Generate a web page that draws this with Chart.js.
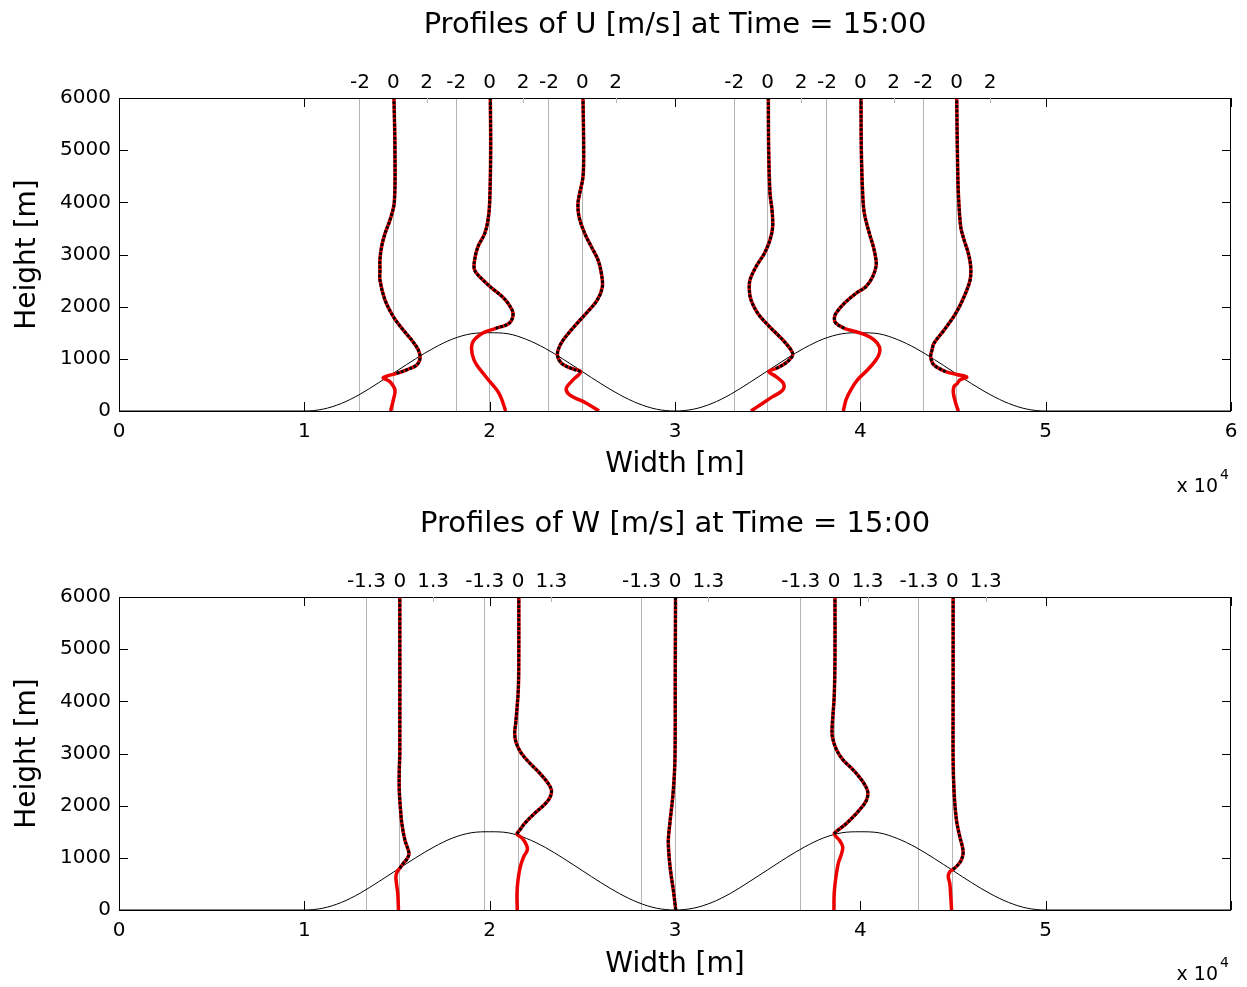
<!DOCTYPE html>
<html lang="en">
<head>
  <meta charset="UTF-8" />
  <title>Profiles of U and W at Time = 15:00</title>
  <script src="https://cdn.jsdelivr.net/npm/chart.js"></script>
  <style>
    body { margin: 0; background: #fff; }
    canvas { position: absolute; left: 0; }
  </style>
</head>
<body>
<canvas id="uChart" width="1247" height="499" style="top:0"></canvas>
<canvas id="wChart" width="1247" height="488" style="top:499px"></canvas>
<script>
  // ---- data ----
  const xTicks = [0, 10000, 20000, 30000, 40000, 50000, 60000];

  // terrain (two hills)
  const terrainX = [0, 10000, 11000, 12000, 13000, 14000, 15000, 16000, 17000, 18000, 19000, 20000,
    21000, 22000, 23000, 24000, 25000, 26000, 27000, 28000, 29000, 30000,
    31000, 32000, 33000, 34000, 35000, 36000, 37000, 38000, 39000, 40000,
    41000, 42000, 43000, 44000, 45000, 46000, 47000, 48000, 49000, 50000, 60000];
  const terrainH = [0, 0, 35, 145, 320, 540, 770, 1000, 1210, 1380, 1480, 1500,
    1480, 1370, 1200, 985, 755, 525, 315, 145, 35, 0,
    35, 145, 320, 540, 770, 1000, 1210, 1380, 1480, 1500,
    1480, 1370, 1200, 985, 755, 525, 315, 145, 35, 0, 0];

  // U profiles [m/s]: heights and values, plus where each one sits on the x axis
  const uX0 = [14800, 20000, 25000, 35000, 40000, 45200];
  const uSurf = [720, 1585, 755, 815, 1585, 755];
  const uTickVals = [-2, 0, 2];
  const uH1 = [0, 210, 400, 560, 640, 720, 790, 880, 1010, 1170, 1360, 1550, 1810, 2130, 2510, 2700, 2900, 3150, 3400, 3660, 4000, 5000, 6000];
  const uV1 = [-0.16, 0, 0.1, -0.2, -0.6, 0.2, 0.8, 1.4, 1.6, 1.5, 1.1, 0.6, 0, -0.5, -0.8, -0.8, -0.8, -0.7, -0.5, -0.2, 0.06, 0.1, 0.04];
  const uH2 = [0, 340, 660, 980, 1300, 1490, 1585, 1680, 1870, 2065, 2190, 2350, 2510, 2700, 2900, 3150, 3400, 3660, 4000, 5000, 6000];
  const uV2 = [0.96, 0.56, -0.24, -0.94, -1.04, -0.44, 0.36, 1.16, 1.4, 1.1, 0.76, 0.15, -0.4, -0.9, -0.9, -0.7, -0.3, -0.1, 0, 0.06, 0.04];
  const uH3 = [0, 150, 310, 435, 595, 755, 820, 915, 1045, 1170, 1360, 1650, 1875, 2130, 2380, 2640, 2895, 3150, 3405, 3725, 3980, 4170, 4490, 5000, 6000];
  const uV3 = [1.0, 0.24, -0.76, -0.96, -0.56, -0.1, -0.7, -1.25, -1.48, -1.45, -1.15, -0.4, 0.24, 0.9, 1.2, 1.14, 0.94, 0.54, 0.14, -0.2, -0.26, -0.16, 0.04, 0.08, 0.04];
  const uH4 = [0, 150, 275, 400, 530, 660, 755, 815, 880, 980, 1075, 1170, 1365, 1620, 1875, 2130, 2320, 2510, 2765, 3020, 3280, 3535, 3855, 4170, 5000, 6000];
  const uV4 = [-1.0, -0.3, 0.3, 0.9, 0.94, 0.5, 0.06, 0.5, 0.9, 1.3, 1.5, 1.4, 0.9, 0.1, -0.6, -1.0, -1.1, -1.06, -0.7, -0.2, 0.14, 0.3, 0.26, 0.14, 0.06, 0.04];
  const uH5 = [0, 215, 410, 600, 790, 980, 1105, 1235, 1360, 1455, 1520, 1585, 1680, 1775, 1875, 2065, 2255, 2385, 2575, 2770, 2895, 3150, 3405, 3790, 4170, 5000, 6000];
  const uV5 = [-1.02, -0.86, -0.56, -0.16, 0.44, 0.94, 1.14, 1.14, 0.84, 0.34, -0.26, -0.96, -1.46, -1.56, -1.46, -0.96, -0.26, 0.34, 0.74, 0.94, 0.94, 0.78, 0.54, 0.24, 0.14, 0.06, 0.04];
  const uH6 = [0, 150, 340, 470, 530, 600, 650, 700, 755, 880, 1040, 1170, 1300, 1550, 1870, 2190, 2510, 2765, 3020, 3280, 3535, 4170, 5000, 6000];
  const uV6 = [0.1, -0.06, -0.2, -0.16, 0.04, 0.2, 0.6, 0.0, -0.66, -1.36, -1.56, -1.48, -1.36, -0.76, -0.06, 0.44, 0.8, 0.84, 0.7, 0.44, 0.24, 0.1, 0.04, 0];

  // W profiles [m/s]
  const wX0 = [15150, 21530, 30000, 38590, 44965];
  const wSurf = [800, 1457, 0, 1457, 780];
  const wTickVals = [-1.3, 0, 1.3];
  const wH1 = [0, 320, 510, 640, 735, 800, 890, 980, 1085, 1340, 1660, 1915, 2300, 2680, 3000, 6000];
  const wV1 = [-0.05, -0.08, -0.13, -0.15, -0.1, 0, 0.13, 0.28, 0.36, 0.2, 0.08, 0.03, -0.02, -0.02, 0, 0];
  const wH2 = [0, 320, 575, 830, 1020, 1150, 1245, 1375, 1457, 1535, 1660, 1855, 2045, 2175, 2300, 2430, 2620, 2815, 3005, 3200, 3390, 3580, 4220, 4860, 6000];
  const wV2 = [-0.03, -0.04, 0, 0.09, 0.22, 0.36, 0.33, 0.17, -0.04, 0.07, 0.26, 0.65, 1.08, 1.26, 1.3, 1.17, 0.85, 0.46, 0.13, -0.07, -0.13, -0.09, 0.01, 0.03, 0.03];
  const wH3 = [0, 380, 700, 1020, 1340, 1660, 2300, 2940, 4500, 6000];
  const wV3 = [0.03, -0.065, -0.16, -0.23, -0.26, -0.2, -0.065, 0, 0.01, 0.02];
  const wH4 = [0, 320, 640, 895, 1085, 1215, 1340, 1457, 1535, 1660, 1855, 2045, 2175, 2300, 2490, 2685, 2875, 3070, 3320, 3515, 4090, 4860, 6000];
  const wV4 = [-0.01, 0, 0.07, 0.16, 0.29, 0.33, 0.2, 0, 0.16, 0.48, 0.87, 1.19, 1.3, 1.29, 1.07, 0.74, 0.35, 0.09, -0.07, -0.08, 0, 0.03, 0.03];
  const wH5 = [0, 320, 510, 640, 735, 780, 865, 960, 1085, 1215, 1405, 1725, 2240, 2880, 4220, 6000];
  const wV5 = [-0.03, -0.07, -0.1, -0.16, -0.1, 0.03, 0.22, 0.35, 0.42, 0.39, 0.29, 0.16, 0.07, 0.03, 0.03, 0.03];

  // ---- styling ----
  const FONT = '"DejaVu Sans", sans-serif';
  const RED = '#ec0000';
  const GRID = '#b4b4b4';
  Chart.defaults.font.family = FONT;
  Chart.defaults.color = '#000';

  // frame, inward ticks, title and the x 10^4 note
  function decorations(cfg) {
    return {
      id: 'decor',
      afterDatasetsDraw(chart) {
        const { ctx, chartArea: a, scales } = chart;
        ctx.save();
        ctx.strokeStyle = '#000';
        ctx.lineWidth = 1;
        ctx.strokeRect(a.left + 0.5, a.top + 0.5, a.right - a.left - 1, a.bottom - a.top);
        ctx.beginPath();
        xTicks.forEach(v => {
          const px = Math.round(scales.x.getPixelForValue(v)) + 0.5;
          ctx.moveTo(px, a.bottom); ctx.lineTo(px, a.bottom - 9);
          ctx.moveTo(px, a.top); ctx.lineTo(px, a.top + 9);
        });
        for (let v = 0; v <= 6000; v += 1000) {
          const py = Math.round(scales.y.getPixelForValue(v)) + 0.5;
          ctx.moveTo(a.left, py); ctx.lineTo(a.left + 9, py);
          ctx.moveTo(a.right, py); ctx.lineTo(a.right - 9, py);
        }
        ctx.stroke();
        ctx.strokeStyle = GRID;
        ctx.beginPath();
        scales.x2.ticks.forEach((t, i) => {
          if (i % 3 !== 2) return;
          const px = Math.round(scales.x2.getPixelForValue(t.value)) + 0.5;
          ctx.moveTo(px, a.top); ctx.lineTo(px, a.top + 5);
        });
        ctx.stroke();
        ctx.restore();
      },
      afterDraw(chart) {
        const { ctx, chartArea: a } = chart;
        ctx.save();
        ctx.fillStyle = '#000';
        ctx.font = '29px ' + FONT;
        ctx.textAlign = 'center';
        ctx.textBaseline = 'middle';
        ctx.fillText(cfg.title, (a.left + a.right) / 2, 25);
        ctx.textBaseline = 'alphabetic';
        ctx.textAlign = 'right';
        ctx.font = '19px ' + FONT;
        ctx.fillText('x 10', 1218, cfg.expY);
        ctx.textAlign = 'left';
        ctx.font = '14px ' + FONT;
        ctx.fillText('4', 1220, cfg.expY - 13);
        ctx.restore();
      }
    };
  }

  function buildPanel(id, cfg) {
    const sets = [{
      data: terrainX.map((x, i) => ({ x: x, y: terrainH[i] })),
      borderColor: '#000', borderWidth: 1, showLine: true,
      cubicInterpolationMode: 'monotone', order: 2
    }];
    cfg.x0.forEach((x0, i) => {
      const pts = cfg.h[i].map((h, j) => ({ x: x0 + cfg.v[i][j] * cfg.k, y: h }));
      sets.push({ data: pts, borderColor: RED, borderWidth: 3.5, showLine: true, tension: 0.35, order: 1 });
      // black dotted copy above the ground
      sets.push({
        data: pts.filter(p => p.y >= cfg.surf[i]),
        borderColor: '#000', borderWidth: 3, borderDash: [3, 1.5],
        showLine: true, tension: 0.35, order: 0
      });
    });

    const topVals = cfg.x0.flatMap(x0 => cfg.tv.map(t => x0 + t * cfg.k));
    const topText = cfg.tv.map(t => String(t));

    new Chart(document.getElementById(id), {
      type: 'scatter',
      data: { datasets: sets },
      options: {
        responsive: false,
        animation: false,
        layout: { padding: { left: 0, right: 16, top: 68, bottom: 0 } },
        elements: { point: { radius: 0 } },
        plugins: { legend: { display: false }, tooltip: { enabled: false } },
        scales: {
          x: {
            type: 'linear', position: 'bottom', min: 0, max: 60000,
            afterBuildTicks: s => { s.ticks = xTicks.map(v => ({ value: v })); },
            afterFit: s => { s.height = cfg.xAxisH; },
            ticks: {
              autoSkip: false, maxRotation: 0, padding: 9, font: { size: 20 },
              callback: v => (v === 60000 && !cfg.showSix) ? '' : String(v / 10000)
            },
            grid: { display: false, drawTicks: false },
            border: { display: false },
            title: { display: true, text: 'Width [m]', font: { size: 28 }, padding: { top: 0, bottom: cfg.titlePad } }
          },
          x2: {
            type: 'linear', position: 'top', min: 0, max: 60000,
            afterBuildTicks: s => { s.ticks = topVals.map(v => ({ value: v })); },
            afterFit: s => { s.height = 30; },
            ticks: {
              autoSkip: false, maxRotation: 0, padding: 3, font: { size: 20 },
              callback: (v, i) => topText[i % 3]
            },
            grid: {
              drawTicks: false,
              color: c => (c.index % 3 === 2 ? 'rgba(0,0,0,0)' : GRID)
            },
            border: { display: false }
          },
          y: {
            min: 0, max: 6000,
            afterFit: s => { s.width = 119; },
            ticks: { stepSize: 1000, padding: 8, font: { size: 20 }, callback: v => String(v) },
            grid: { display: false, drawTicks: false },
            border: { display: false },
            title: { display: true, text: 'Height [m]', font: { size: 28 }, padding: { top: 11, bottom: 0 } }
          }
        }
      },
      plugins: [decorations(cfg)]
    });
  }

  buildPanel('uChart', {
    title: 'Profiles of U [m/s] at Time = 15:00',
    x0: uX0, surf: uSurf, tv: uTickVals, k: 900,
    h: [uH1, uH2, uH3, uH4, uH5, uH6],
    v: [uV1, uV2, uV3, uV4, uV5, uV6],
    xAxisH: 88, titlePad: 17, expY: 492, showSix: true
  });

  buildPanel('wChart', {
    title: 'Profiles of W [m/s] at Time = 15:00',
    x0: wX0, surf: wSurf, tv: wTickVals, k: 1385,
    h: [wH1, wH2, wH3, wH4, wH5],
    v: [wV1, wV2, wV3, wV4, wV5],
    xAxisH: 77, titlePad: 5, expY: 481, showSix: false
  });
</script>
</body>
</html>
